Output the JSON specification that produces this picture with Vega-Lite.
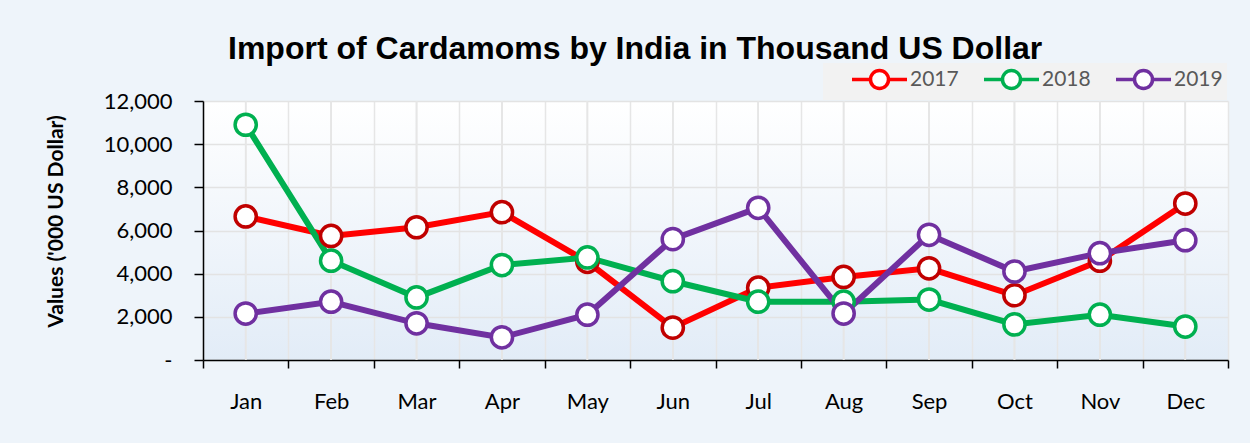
{
  "$schema": "https://vega.github.io/schema/vega-lite/v6.json",
  "autosize": "none",
  "width": 1025,
  "height": 259,
  "padding": {"left": 203, "top": 101, "right": 22, "bottom": 83},
  "background": "#eef4fa",
  "title": {
    "text": "Import of Cardamoms by India in Thousand US Dollar",
    "font": "Liberation Sans",
    "fontSize": 32,
    "fontWeight": "bold",
    "color": "#000000",
    "anchor": "start",
    "frame": "group",
    "baseline": "alphabetic",
    "dx": 25,
    "dy": 28,
    "offset": 0
  },
  "config": {
    "view": {
      "stroke": null,
      "fill": {
        "gradient": "linear",
        "x1": 0, "y1": 0, "x2": 0, "y2": 1,
        "stops": [
          {"offset": 0, "color": "#ffffff"},
          {"offset": 1, "color": "#e2ecf7"}
        ]
      }
    }
  },
  "data": {
    "values": [
      {"month": "Jan", "year": "2017", "value": 6650},
      {"month": "Feb", "year": "2017", "value": 5750},
      {"month": "Mar", "year": "2017", "value": 6150},
      {"month": "Apr", "year": "2017", "value": 6850},
      {"month": "May", "year": "2017", "value": 4550},
      {"month": "Jun", "year": "2017", "value": 1500},
      {"month": "Jul", "year": "2017", "value": 3350},
      {"month": "Aug", "year": "2017", "value": 3850},
      {"month": "Sep", "year": "2017", "value": 4250},
      {"month": "Oct", "year": "2017", "value": 3000},
      {"month": "Nov", "year": "2017", "value": 4600},
      {"month": "Dec", "year": "2017", "value": 7250},
      {"month": "Jan", "year": "2018", "value": 10900},
      {"month": "Feb", "year": "2018", "value": 4600},
      {"month": "Mar", "year": "2018", "value": 2900},
      {"month": "Apr", "year": "2018", "value": 4400},
      {"month": "May", "year": "2018", "value": 4750},
      {"month": "Jun", "year": "2018", "value": 3650},
      {"month": "Jul", "year": "2018", "value": 2700},
      {"month": "Aug", "year": "2018", "value": 2700},
      {"month": "Sep", "year": "2018", "value": 2800},
      {"month": "Oct", "year": "2018", "value": 1650},
      {"month": "Nov", "year": "2018", "value": 2100},
      {"month": "Dec", "year": "2018", "value": 1550},
      {"month": "Jan", "year": "2019", "value": 2150},
      {"month": "Feb", "year": "2019", "value": 2700},
      {"month": "Mar", "year": "2019", "value": 1700},
      {"month": "Apr", "year": "2019", "value": 1050},
      {"month": "May", "year": "2019", "value": 2100},
      {"month": "Jun", "year": "2019", "value": 5600},
      {"month": "Jul", "year": "2019", "value": 7050},
      {"month": "Aug", "year": "2019", "value": 2150},
      {"month": "Sep", "year": "2019", "value": 5800},
      {"month": "Oct", "year": "2019", "value": 4100},
      {"month": "Nov", "year": "2019", "value": 4950},
      {"month": "Dec", "year": "2019", "value": 5550}
    ]
  },
  "encoding": {
    "x": {
      "field": "month",
      "type": "ordinal",
      "bandPosition": 0.5,
      "sort": ["Jan","Feb","Mar","Apr","May","Jun","Jul","Aug","Sep","Oct","Nov","Dec"],
      "scale": {"type": "band", "paddingInner": 0, "paddingOuter": 0},
      "axis": {
        "title": null,
        "labelAngle": 0,
        "labelFont": "Lato",
        "labelFontSize": 22,
        "labelColor": "#000000",
        "labelPadding": 23,
        "tickBand": "extent",
        "tickSize": 8,
        "tickColor": "#000000",
        "tickWidth": 1.5,
        "domainColor": "#000000",
        "domainWidth": 1.5,
        "grid": true,
        "gridColor": "#e6e6e6",
        "gridWidth": 1.5
      }
    },
    "y": {
      "field": "value",
      "type": "quantitative",
      "scale": {"domain": [0, 12000], "nice": false},
      "axis": {
        "values": [0, 2000, 4000, 6000, 8000, 10000, 12000],
        "labelExpr": "datum.value == 0 ? '-' : format(datum.value, ',')",
        "labelFont": "Lato",
        "labelFontSize": 22,
        "labelColor": "#000000",
        "labelPadding": 22,
        "tickSize": 9,
        "tickColor": "#000000",
        "tickWidth": 1.5,
        "domainColor": "#000000",
        "domainWidth": 1.5,
        "gridColor": "#e3e3e3",
        "gridWidth": 1.5,
        "title": "Values ('000 US Dollar)",
        "titleFont": "Lato",
        "titleFontSize": 21,
        "titleFontWeight": "bold",
        "titleColor": "#000000",
        "titleAngle": -90,
        "titleAlign": "center",
        "titleBaseline": "middle",
        "titleX": -147,
        "titleY": 120
      }
    }
  },
  "layer": [
    {
      "mark": {"type": "rule", "color": "#e6e6e6", "strokeWidth": 1.5},
      "encoding": {"y": {"value": 0}, "y2": {"value": 259}}
    },
    {
      "mark": {"type": "line", "strokeWidth": 6},
      "encoding": {
        "color": {
          "field": "year",
          "type": "nominal",
          "scale": {"domain": ["2017", "2018", "2019"], "range": ["#ff0000", "#00b050", "#7030a0"]},
          "legend": {
            "title": null,
            "orient": "none",
            "direction": "horizontal",
            "legendX": 620,
            "legendY": -38,
            "fillColor": "#f2f2f2",
            "padding": 4,
            "symbolType": "M-1,0H0.85M2.65,0H4.5M0.85,0A0.9,0.9 0 1,0 2.65,0A0.9,0.9 0 1,0 0.85,0Z",
            "symbolSize": 400,
            "symbolStrokeWidth": 3.5,
            "symbolFillColor": "#ffffff",
            "symbolOffset": 23,
            "labelFont": "Lato",
            "labelFontSize": 21,
            "labelColor": "#595959",
            "labelOffset": 36,
            "columnPadding": 0
          }
        }
      }
    },
    {
      "mark": {"type": "point", "shape": "circle", "size": 450, "filled": false, "fill": "#ffffff", "fillOpacity": 1, "opacity": 1, "strokeWidth": 3.5},
      "encoding": {
        "stroke": {
          "field": "year",
          "type": "nominal",
          "scale": {"domain": ["2017", "2018", "2019"], "range": ["#c00000", "#00b050", "#7030a0"]},
          "legend": null
        }
      }
    }
  ]
}
